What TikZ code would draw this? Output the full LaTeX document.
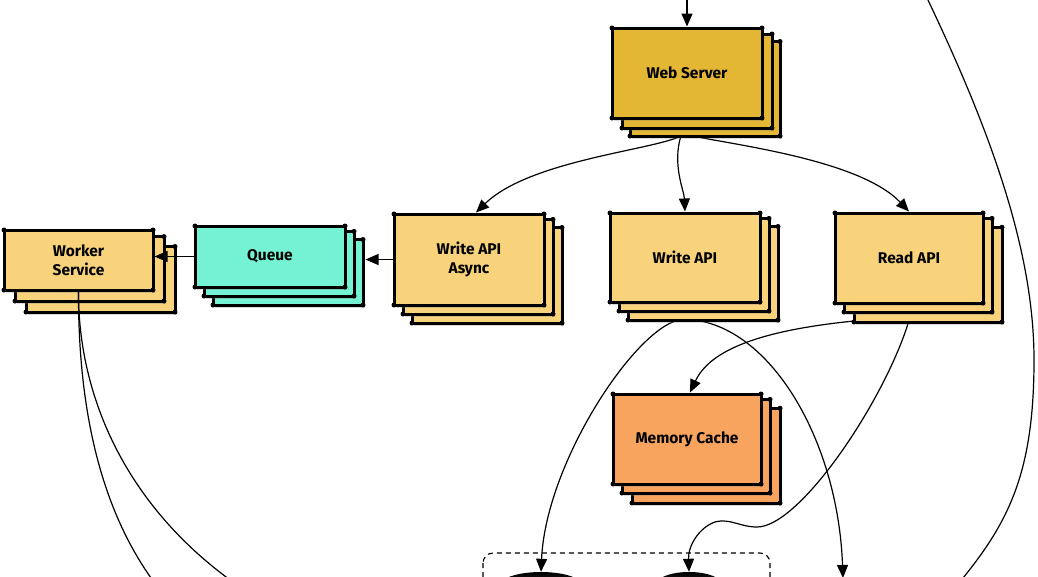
\documentclass[tikz,border=0pt]{standalone}
\usepackage{fontspec}
\setmainfont{Fira Sans}
\usetikzlibrary{arrows.meta,shadows,backgrounds,shapes.geometric}
\definecolor{gold}{HTML}{E3B634}
\definecolor{paleY}{HTML}{F9D37B}
\definecolor{tealq}{HTML}{74F2D3}
\definecolor{orng}{HTML}{F8A45E}
\tikzset{
 boxline/.style={draw=black, line width=3pt, line join=miter},
 layerbox/.style={boxline, drop shadow={opacity=0.3, shadow xshift=2pt, shadow yshift=-3pt}},
 frontbox/.style={layerbox, rectangle, inner sep=0pt, align=center, font=\bfseries\fontsize{15.5}{19}\selectfont},
 conn/.style={line width=1.2pt, -{Triangle[length=13pt,width=11pt]}},
 plainconn/.style={line width=1.2pt},
 dbtop/.style={ellipse, top color=black, bottom color=black!70, draw=none, inner sep=0pt},
 grp/.style={draw=black, line width=1.1pt, dash pattern=on 5pt off 4pt, rounded corners=10pt}
}
\newcommand\dotcorners[4]{\foreach \cx in {#1,#3}{\foreach \cy in {#2,#4}{\fill (\cx,\cy) circle (2.5pt);}}}
\newcommand\stackbox[9]{%
  \path[layerbox, fill=#6] (#2+#9,#3+0.75*#9) rectangle (#4+#9,#5+#9);
  \dotcorners{#2+#9}{#3+0.75*#9}{#4+#9}{#5+#9}
  \path[layerbox, fill=#6] (#2+#8,#3+0.6*#8) rectangle (#4+#8,#5+#8);
  \dotcorners{#2+#8}{#3+0.6*#8}{#4+#8}{#5+#8}
  \node[frontbox, fill=#6, minimum width={(#4-#2)*1pt}, minimum height={(#5-#3)*1pt}] (#1) at ({(#2+#4)/2},{(#3+#5)/2}) {#7};
  \dotcorners{#2}{#3}{#4}{#5}
}
\begin{document}
\begin{tikzpicture}[x=1pt,y=-1pt]
\useasboundingbox (0,0) rectangle (1038,576);
% database group at the bottom
\draw[grp] (483,553) rectangle (770,620);
\node[dbtop, minimum width=84pt, minimum height=28pt] (db1) at (541,586) {};
\node[dbtop, minimum width=67pt, minimum height=26pt] (db2) at (689,585) {};
% boxes
\stackbox{ws}{612}{28}{762}{118}{gold}{Web Server}{10}{18}
\stackbox{wk}{4}{230}{153}{290}{paleY}{Worker\\Service}{11}{22}
\stackbox{qu}{195}{226}{345}{287}{tealq}{Queue}{9}{18}
\stackbox{wa}{394}{214}{544}{305}{paleY}{Write API\\Async}{9}{18}
\stackbox{wn}{610}{213}{760}{302}{paleY}{Write API}{9}{18}
\stackbox{ra}{835}{213}{983}{303}{paleY}{Read API}{9}{19}
\stackbox{mc}{613}{394}{761}{484}{orng}{Memory Cache}{9}{19}
% free ends
\coordinate (inTop) at (687,-2);
\coordinate (bigA) at (927,-2);
\coordinate (bigB) at (963,578);
\coordinate (wkA) at (160,590);
\coordinate (wkB) at (260,600);
\coordinate (outR) at (843,578);
\coordinate (quR) at ([xshift=19pt]qu.east);
% connectors behind the boxes
\begin{pgfonlayer}{background}
\draw[conn] ([yshift=-16pt,xshift=-5pt]ws.south) .. controls (655,150) and (530,160) .. ([xshift=7pt]wa.north);
\draw[conn] ([yshift=-16pt,xshift=-6pt]ws.south) .. controls (672,165) and (684,190) .. (wn.north);
\draw[conn] ([yshift=-16pt,xshift=3pt]ws.south) .. controls (735,145) and (860,160) .. (ra.north);
\draw[conn] ([yshift=-16pt,xshift=-2pt]wn.south) .. controls (640,321) and (546,460) .. (db1.north);
\draw[conn] ([yshift=-16pt,xshift=4pt]wn.south) .. controls (770,325) and (838,440) .. (outR);
\draw[conn] ([yshift=-16pt,xshift=-50pt]ra.south) .. controls (760,330) and (710,350) .. ([xshift=3pt]mc.north);
\draw[conn] ([yshift=-16pt]ra.south) .. controls (885,400) and (800,527) .. (757,527) .. controls (740,527) and (730,518) .. (715,522) .. controls (700,527) and (688,545) .. (db2.north);
\draw[plainconn] (bigA) .. controls (990,130) and (1034,250) .. (1034,360) .. controls (1034,470) and (1010,520) .. (bigB);
\end{pgfonlayer}
% connectors in front
\draw[conn, line width=1.5pt] (inTop) -- (ws.north);
\draw[conn] (wa.west) -- (wa.west -| quR);
\draw[conn] (qu.west) -- (qu.west -| wk.east);
\draw[plainconn] (wk.south) .. controls (78,420) and (105,520) .. (wkA);
\draw[plainconn] (wk.south) .. controls (78,400) and (130,520) .. (wkB);
\end{tikzpicture}
\end{document}
